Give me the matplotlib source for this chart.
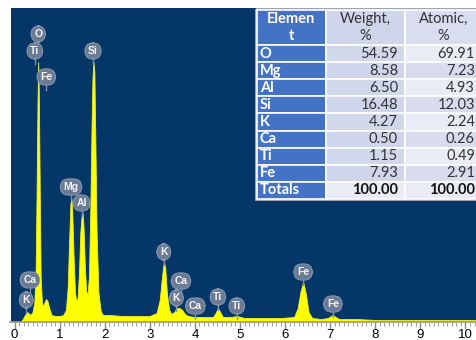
import matplotlib
matplotlib.use("Agg")
import matplotlib.pyplot as plt
from matplotlib.patches import Rectangle

# spectrum: energy (keV), counts (arbitrary, axis top = 314)
energy = [-0.1, 0.12, 0.17, 0.22, 0.27, 0.31, 0.35, 0.40, 0.44, 0.47, 0.49, 0.51, 0.525, 0.54,
          0.56, 0.58, 0.61, 0.64, 0.67, 0.70, 0.73, 0.77, 0.82, 0.90, 1.00, 1.08, 1.14, 1.18,
          1.21, 1.24, 1.26, 1.28, 1.31, 1.34, 1.37, 1.40, 1.43, 1.46, 1.49, 1.51, 1.53, 1.56,
          1.59, 1.62, 1.65, 1.68, 1.71, 1.73, 1.75, 1.77, 1.79, 1.82, 1.86, 1.91, 1.96, 2.1,
          2.4, 2.7, 3.0, 3.15, 3.22, 3.27, 3.31, 3.34, 3.38, 3.43, 3.48, 3.54, 3.60, 3.66,
          3.72, 3.78, 3.85, 4.0, 4.2, 4.40, 4.46, 4.51, 4.56, 4.62, 4.8, 4.93, 5.1, 5.5,
          5.9, 6.2, 6.28, 6.34, 6.40, 6.46, 6.52, 6.60, 6.8, 6.95, 7.02, 7.06, 7.12, 7.2,
          7.6, 8.0, 9.0, 10.3]
counts = [0, 0, 2, 6, 10, 9, 7, 10, 20, 55, 130, 220, 260, 225, 130, 45, 18, 17, 20, 23, 21,
          14, 7, 6, 6, 7, 12, 35, 80, 118, 124, 110, 65, 30, 21, 24, 50, 90, 108, 109, 95, 55,
          30, 28, 45, 110, 200, 245, 260, 250, 190, 90, 30, 11, 7, 7, 6, 6, 6, 9, 22, 45, 60,
          55, 28, 12, 8, 10, 14, 14, 12, 8, 6, 5, 5, 5, 9, 14, 10, 5, 5, 6, 4, 4, 4, 5, 14,
          30, 40, 28, 10, 4, 3, 4, 6, 7, 5, 3, 3, 2, 2, 2]

# peak markers: element, line energy (keV), badge height
marker_el = ["O", "Ti", "Fe", "Si", "Mg", "Al", "Ca", "K", "K", "Ca", "K", "Ca", "Ti", "Ti", "Fe", "Fe"]
marker_e = [0.525, 0.452, 0.705, 1.74, 1.253, 1.486, 0.341, 0.26, 3.31, 3.69, 3.59, 4.01, 4.51, 4.93, 6.40, 7.06]
marker_h = [288, 271, 245, 271, 135, 119, 42, 22, 70, 41, 24, 16, 25, 16, 50, 18]

# composition table
elements = ["O", "Mg", "Al", "Si", "K", "Ca", "Ti", "Fe", "Totals"]
weight = ["54.59", "8.58", "6.50", "16.48", "4.27", "0.50", "1.15", "7.93", "100.00"]
atomic = ["69.91", "7.23", "4.93", "12.03", "2.24", "0.26", "0.49", "2.91", "100.00"]

fig = plt.figure(figsize=(4.76, 3.40), dpi=100)
ax = fig.add_axes([10.5 / 476, 18 / 340, 1 - 10.5 / 476, 314 / 340])
ax.set_facecolor("#053668")
ax.fill_between(energy, counts, 0, color="#ffff00", lw=0.6, edgecolor="#f0f020")
ax.set_xlim(-0.089, 10.233)
ax.set_ylim(0, 314)
ax.set_yticks([])
for s in ["top", "right", "left"]:
    ax.spines[s].set_visible(False)
ax.spines["bottom"].set_color("#9a9a9a")
ax.spines["bottom"].set_linewidth(1.2)
ax.set_xticks(range(11))
ax.set_xticks([i / 10 for i in range(103)], minor=True)
ax.tick_params(axis="x", which="major", length=5, width=1, color="#8a8a8a",
               labelsize=9.5, pad=0)
ax.tick_params(axis="x", which="minor", length=3, width=0.7, color="#9a9a9a")
for lab in ax.get_xticklabels():
    lab.set_family("Liberation Sans")

for el, e, h in zip(marker_el, marker_e, marker_h):
    ax.plot([e, e], [h - 13, h - 6], color="#8090a8", lw=1)
    ax.text(e, h, el, ha="center", va="center", color="#f4f4f4", fontsize=7.5,
            fontweight="bold", family="Liberation Sans",
            bbox=dict(boxstyle="round,pad=0.3,rounding_size=0.8", fc="#6b7b95",
                      ec="#8a98ad", lw=0.7))

# table overlay in pixel coordinates
tax = fig.add_axes([0, 0, 1, 1])
tax.set_xlim(0, 476)
tax.set_ylim(340, 0)
tax.axis("off")
cols = [257, 326, 405, 484]
rows = [10, 45] + [45 + 17.1 * (i + 1) for i in range(9)]
tax.add_patch(Rectangle((cols[0] - 1, rows[0] - 1), cols[3] - cols[0] + 2, rows[-1] - rows[0] + 2,
                        fc="none", ec="#b8bcc8", lw=1.2))
for r in range(10):
    y0, y1 = rows[r], rows[r + 1]
    if r == 0:
        fills = ["#4472c4", "#cfd6ec", "#d8def0"]
    elif r == 9:
        fills = ["#4472c4", "#e9ebf5", "#e9ebf5"]
    elif r % 2 == 1:
        fills = ["#4472c4", "#d2d8ec", "#e9ebf5"]
    else:
        fills = ["#4472c4", "#cfd5ea", "#d8dcee"]
    for c in range(3):
        tax.add_patch(Rectangle((cols[c], y0), cols[c + 1] - cols[c], y1 - y0,
                                fc=fills[c], ec="white", lw=1.2))

hdr = dict(fontsize=10.5, family="Lato", va="center", ha="center")
tax.text(291.5, 19, "Elemen", color="white", fontweight="bold", **hdr)
tax.text(291.5, 36, "t", color="white", fontweight="bold", **hdr)
tax.text(365.5, 19, "Weight,", color="#333333", **hdr)
tax.text(365.5, 36, "%", color="#333333", **hdr)
tax.text(443.5, 19, "Atomic,", color="#333333", **hdr)
tax.text(443.5, 36, "%", color="#333333", **hdr)
for i, (el, w, a) in enumerate(zip(elements, weight, atomic)):
    yc = (rows[i + 1] + rows[i + 2]) / 2
    bold = "bold" if el == "Totals" else "normal"
    tcol = "#111111" if bold == "bold" else "#333333"
    tax.text(260, yc, el, color="white", fontweight="bold", fontsize=10.5, family="Lato",
             va="center", ha="left")
    tax.text(398, yc, w, color=tcol, fontweight=bold,
             fontsize=10.5, family="Lato", va="center", ha="right")
    tax.text(475, yc, a, color=tcol, fontweight=bold,
             fontsize=10.5, family="Lato", va="center", ha="right")

fig.savefig("out.png", dpi=100)
